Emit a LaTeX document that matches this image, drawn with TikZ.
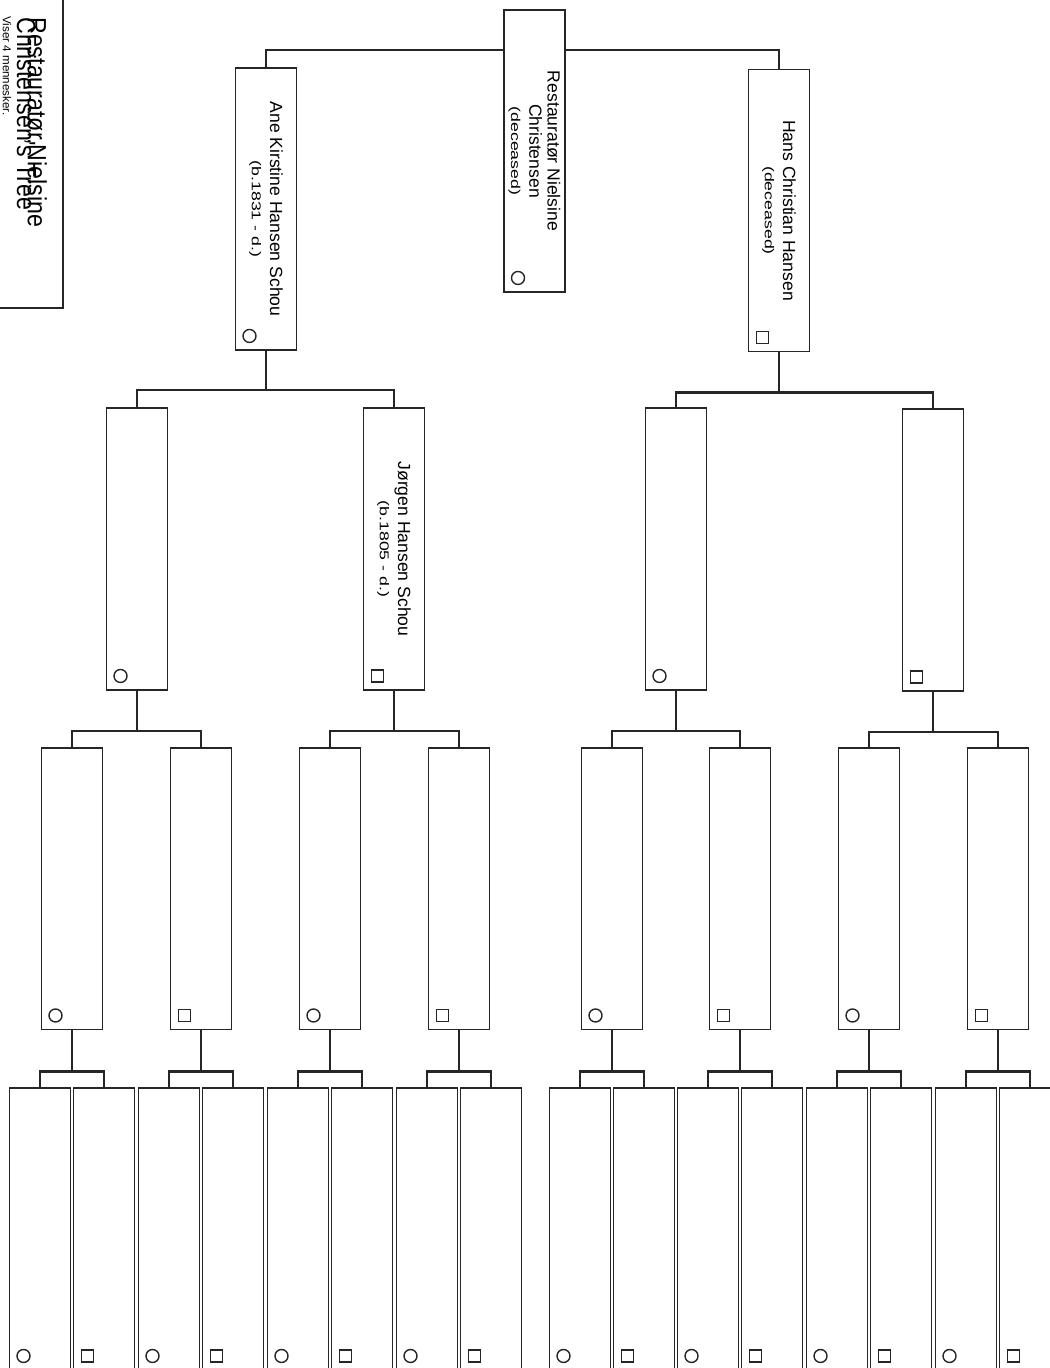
\documentclass[tikz,border=0pt]{standalone}
\usepackage{fontspec}
\setmainfont{Liberation Sans}
\newfontfamily\namefont{Liberation Sans}
\newfontfamily\datefont[FakeStretch=1.38]{Liberation Sans}
\newfontfamily\titlefont[FakeStretch=0.88]{Liberation Sans}
\usetikzlibrary{positioning,calc,backgrounds}
\newcommand{\persinfo}[1]{{\datefont\fontsize{7.3}{10.4}\selectfont #1}}

\begin{document}
\begin{tikzpicture}[
    x=0.02cm, y=-0.02cm,
    person/.style={rectangle, draw=black!85, line width=1.1pt, fill=white, rotate=-90,
                   minimum width=5.64cm, minimum height=1.22cm, inner sep=0pt, outer sep=0pt,
                   align=center, font=\namefont\fontsize{10}{10.4}\selectfont},
    link/.style={draw=black!85, line width=1.6pt},
    female/.style={circle, draw=black!85, line width=0.8pt, minimum size=0.26cm, inner sep=0pt},
    male/.style={rectangle, draw=black!85, line width=0.8pt, minimum size=0.24cm, inner sep=0pt},
    caption/.style={rotate=-90, anchor=base west, inner sep=0pt}
]
\useasboundingbox (0,0) rectangle (1050,1368);

% Title
\draw[draw=black!85, line width=0.9pt] (-10,-10) rectangle (63,308);
\node[caption, font=\titlefont\fontsize{15}{15}\selectfont] (title1) at (28,17) {Restauratør,Nielsine};
\node[caption, font=\titlefont\fontsize{15}{15}\selectfont] (title2) at (17,17) {Christensen's Tree};
\node[caption, font=\namefont\fontsize{6.6}{7}\selectfont] (viser) at (3,16) {Viser 4 mennesker.};

% Root person and parents
\node[person] (root) at (534.5,151) {Restauratør Nielsine\\Christensen\\\persinfo{(deceased)}};
\node[person] (ane) at (266,209) {Ane Kirstine Hansen Schou\\\persinfo{(b.1831 - d.)}};
\node[person] (hans) at (779,210.5) {Hans Christian Hansen\\\persinfo{(deceased)}};

% Grandparents
\node[person] (g21) at (137,549) {};
\node[person] (jorgen) at (394,549) {Jørgen Hansen Schou\\\persinfo{(b.1805 - d.)}};
\node[person] (g23) at (676,549) {};
\node[person] (g24) at (933,550) {};

% Sex symbols
\foreach \n/\sex in {root/female, ane/female, hans/male, g21/female, jorgen/male, g23/female, g24/male}
    \node[\sex] (\n-s) at ($(\n.south east)+(14,-14)$) {};

% Links down to grandparents
\begin{pgfonlayer}{background}
\draw[link] (ane.west) |- ($(root.west)+(0,40)$) -| (hans.west);
\end{pgfonlayer}
\draw[link] (ane.east) -- ++(0,40) coordinate (ane-bar);
\draw[link] (g21.west) |- (ane-bar) -| (jorgen.west);
\draw[link] (hans.east) -- ++(0,41) coordinate (hans-bar);
\draw[link] (g23.west) |- (hans-bar) -| (g24.west);

% Great-grandparents
\foreach \n/\cx/\sex in {g31/72/female, g32/201/male, g33/330/female, g34/459/male,
                         g35/612/female, g36/740/male, g37/869/female, g38/998/male} {
    \node[person] (\n) at (\cx,888.5) {};
    \node[\sex] (\n-s) at ($(\n.south east)+(14,-14)$) {};
}
\foreach \up/\a/\b in {g21/g31/g32, jorgen/g33/g34, g23/g35/g36, g24/g37/g38} {
    \draw[link] (\up.east) -- ++(0,41) coordinate (\up-bar);
    \draw[link] (\a.west) |- (\up-bar) -| (\b.west);
}

% Great-great-grandparents
\foreach \k/\cx in {1/72, 2/201, 3/330, 4/459, 5/612, 6/740, 7/869, 8/998} {
    \node[person] (g4\k a) at (\cx-32,1229) {};
    \node[person] (g4\k b) at (\cx+32,1229) {};
    \node[female] (g4\k a-s) at ($(g4\k a.south east)+(14,-14)$) {};
    \node[male] (g4\k b-s) at ($(g4\k b.south east)+(14,-14)$) {};
    \draw[link] (g3\k.east) -- ++(0,42) coordinate (g3\k-bar);
    \draw[link] (g4\k a.west) |- (g3\k-bar) -| (g4\k b.west);
}

\end{tikzpicture}
\end{document}
